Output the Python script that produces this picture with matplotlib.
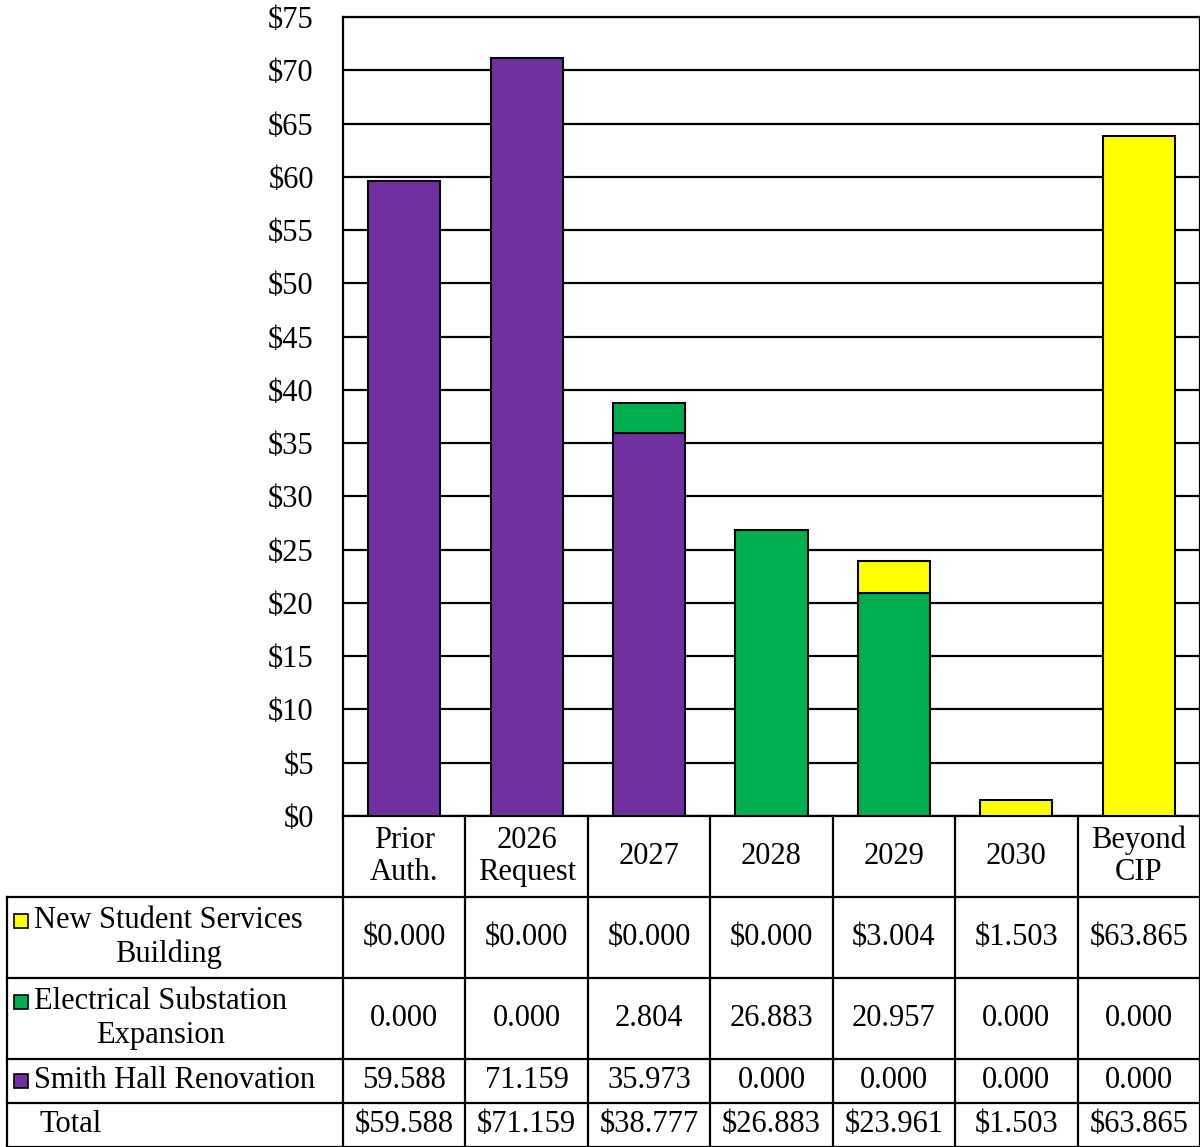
import matplotlib
matplotlib.use("Agg")
import matplotlib.pyplot as plt
import numpy as np

plt.rcParams['font.family'] = ['Liberation Serif', 'DejaVu Serif']

categories = ["Prior\nAuth.", "2026\nRequest", "2027", "2028", "2029", "2030", "Beyond\nCIP"]
series_names = ["New Student Services\nBuilding", "Electrical Substation\nExpansion", "Smith Hall Renovation"]
smith_hall = [59.588, 71.159, 35.973, 0.000, 0.000, 0.000, 0.000]
substation = [0.000, 0.000, 2.804, 26.883, 20.957, 0.000, 0.000]
student_services = [0.000, 0.000, 0.000, 0.000, 3.004, 1.503, 63.865]
colors = {"smith": "#7030A0", "sub": "#00B050", "nssb": "#FFFF00"}

W, H = 1200, 1147
FS = 22

fig = plt.figure(figsize=(W / 100, H / 100), dpi=100)

# main chart area (pixel box 343..1200, 17..816)
ax = fig.add_axes([343 / W, 1 - 816 / H, 857 / W, 799 / H])
x = np.arange(len(categories))
smith = np.array(smith_hall)
sub = np.array(substation)
nssb = np.array(student_services)
bw = 0.59
ax.bar(x, smith, bw, color=colors["smith"], edgecolor="black", linewidth=1.5, zorder=3)
ax.bar(x, sub, bw, bottom=smith, color=colors["sub"], edgecolor="black", linewidth=1.5, zorder=3)
ax.bar(x, nssb, bw, bottom=smith + sub, color=colors["nssb"], edgecolor="black", linewidth=1.5, zorder=3)
# hide zero-height edges
for c in ax.containers:
    for r in c:
        if r.get_height() == 0:
            r.set_visible(False)

ax.set_xlim(-0.5, len(categories) - 0.5)
ax.set_ylim(0, 75)
ax.set_yticks(np.arange(0, 80, 5))
ax.set_yticklabels([f"${v}" for v in range(0, 80, 5)], fontsize=FS)
ax.yaxis.grid(True, color="black", linewidth=1.6, zorder=0)
ax.set_xticks([])
ax.tick_params(axis="y", length=0, pad=21)
for s in ax.spines.values():
    s.set_linewidth(1.6)
    s.set_color("black")

# data table below
ncol = len(categories)
colw = 857 / ncol
tab = fig.add_axes([7 / W, 0, (W - 7) / W, 1 - 816 / H])
lab_left = -0.5 - (343 - 7) / colw
tab.set_xlim(lab_left, ncol - 0.5)
rows = [0, 81, 162, 243, 287, 331]
tab.set_ylim(331, 0)
tab.axis("off")


def px(p):
    return lab_left + (p - 7) / colw


lw = 1.6
for yy in rows[1:]:
    tab.plot([lab_left, ncol - 0.5], [yy, yy], color="black", lw=lw, clip_on=False)
for k in range(ncol + 1):
    tab.plot([k - 0.5, k - 0.5], [0, 331], color="black", lw=lw, clip_on=False)
tab.plot([lab_left, lab_left], [81, 331], color="black", lw=lw, clip_on=False)

for i, c in enumerate(categories):
    tab.text(i, 40.5, c, ha="center", va="center", fontsize=FS, linespacing=1.12)

table_rows = [nssb, sub, smith]
fmts = ["${:.3f}", "{:.3f}", "{:.3f}"]
swatch = [colors["nssb"], colors["sub"], colors["smith"]]
for r, (vals, fmt) in enumerate(zip(table_rows, fmts)):
    yc = (rows[r + 1] + rows[r + 2]) / 2
    for i, v in enumerate(vals):
        tab.text(i, yc, fmt.format(v), ha="center", va="center", fontsize=FS)
    name = series_names[r]
    nlines = name.count("\n") + 1
    ytop = yc - (nlines - 1) * 17
    tab.plot([px(21)], [ytop], marker="s", ms=10.5, mfc=swatch[r], mec="black", mew=1.2, clip_on=False)
    tab.text(px(34), yc, name, ha="left", va="center", multialignment="center",
             fontsize=FS, linespacing=1.2)

totals = smith + sub + nssb
yc = (rows[4] + rows[5]) / 2
tab.text(px(40), yc, "Total", ha="left", va="center", fontsize=FS)
for i, v in enumerate(totals):
    tab.text(i, yc, f"${v:.3f}", ha="center", va="center", fontsize=FS)

fig.savefig("out.png", dpi=100)
